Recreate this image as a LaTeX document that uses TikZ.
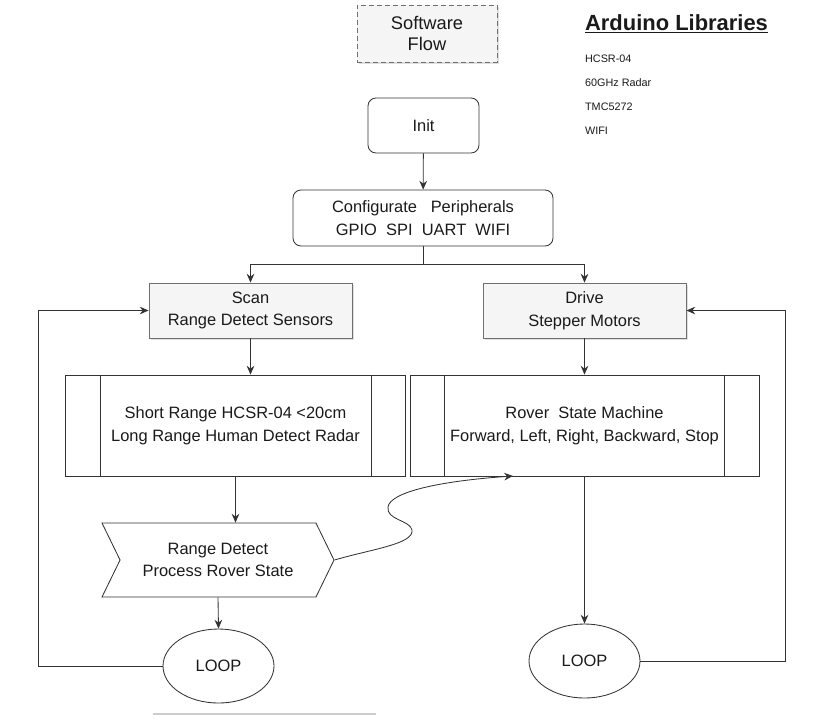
\documentclass[tikz,border=0pt]{standalone}
\usepackage{fontspec}
\setmainfont{Liberation Sans}
\usetikzlibrary{arrows.meta,positioning,shapes.geometric,shapes.symbols,shadows,calc}
\definecolor{flowLine}{HTML}{333333}
\definecolor{flowFill}{HTML}{F5F5F5}
\definecolor{flowDash}{HTML}{707070}
\definecolor{flowText}{HTML}{1A1A1A}

\begin{document}
\begin{tikzpicture}[x=0.25mm,y=-0.25mm,line width=0.6pt,
    every node/.style={font=\fontsize{11.7}{16}\selectfont,text=flowText},
    >={Stealth[length=2.2mm,width=1.9mm]}]
      \useasboundingbox (0,0) rectangle (825,720);
      \tikzstyle{r}=[draw=flowLine,rounded corners=2mm,align=center]
      \tikzstyle{g}=[draw=flowLine!70,fill=flowFill,align=center,
                     minimum width=50.75mm,minimum height=13.75mm,
                     drop shadow={shadow xshift=0.6mm,shadow yshift=-0.6mm,opacity=0.25}]
      \tikzstyle{p}=[draw=flowLine,align=center,minimum height=25.25mm]
      \tikzstyle{lp}=[draw=flowLine,ellipse,minimum width=27.75mm,
                      minimum height=18.5mm,inner sep=0pt]
      \tikzstyle{a}=[->,draw=flowLine]
      \node[draw=flowDash,dash pattern=on 1.2mm off 0.8mm,fill=flowFill,
            minimum width=35mm,minimum height=14.25mm,align=center,
            font=\fontsize{13}{15}\selectfont,
            drop shadow={shadow xshift=0.6mm,shadow yshift=-0.6mm,opacity=0.25}]
            (sw) at (427,33.5) {Software\\Flow};
      \node[anchor=west,font=\fontsize{15.6}{18}\selectfont\bfseries]
            (lib) at (580,24) {\underline{Arduino Libraries}};
      \foreach \t [count=\i] in {HCSR-04,60GHz Radar,TMC5272,WIFI}
        \node[anchor=west,font=\fontsize{7.7}{9}\selectfont] (lib\i) at (580,35+24*\i) {\t};
      \node[r,minimum width=27.75mm,minimum height=13.75mm] (init) at (423.5,125.5) {Init};
      \node[r,minimum width=65mm,minimum height=14mm] (cfg) at (423,218)
            {Configurate\ \ \ Peripherals\\GPIO\ \ SPI\ \ UART\ \ WIFI};
      \node[g] (scan) at (250.5,310.5) {Scan\\Range Detect Sensors};
      \node[g] (drive) at (584.5,310.5) {Drive\\Stepper Motors};
      \node[p,minimum width=85mm] (sr) at (235.5,425.5)
            {Short Range HCSR-04 <20cm\\Long Range Human Detect Radar};
      \node[p,minimum width=87.25mm] (rsm) at (584.5,425.5)
            {Rover\ \ State Machine\\Forward, Left, Right, Backward, Stop};
      \foreach \n in {sr,rsm}{
        \draw[flowLine] ($(\n.north west)+(35,0)$) -- ($(\n.south west)+(35,0)$);
        \draw[flowLine] ($(\n.north east)+(-35,0)$) -- ($(\n.south east)+(-35,0)$);
      }
      \node[draw=flowLine,signal,signal to=east,signal from=west,signal pointer angle=128,
            minimum width=58mm,minimum height=18.5mm,align=center]
            (sig) at (218,560) {Range Detect\\Process Rover State};
      \node[lp] (loopL) at (218.5,666) {LOOP};
      \node[lp] (loopR) at (584.5,661) {LOOP};
      \coordinate (split) at (423,264);
      \coordinate (retL) at (38,666);
      \coordinate (retR) at (785,661);
      \coordinate (rsmIn) at (513,476);
      \draw[a] (init) -- (cfg);
      \draw[a] (cfg) -- (split) -| (scan);
      \draw[a] (split) -| (drive);
      \draw[a] (scan.south) -- (scan.south |- sr.north);
      \draw[a] (drive) -- (rsm);
      \draw[a] (sr.south) -- (sr.south |- sig.north);
      \draw[a] (sig.south) -- (loopL.north);
      \draw[a] (rsm) -- (loopR);
      \draw[a] (loopL) -- (retL) |- (scan);
      \draw[a] (loopR) -- (retR) |- (drive);
      \draw[a] (sig.east) .. controls (372,549) and (414,544) .. (412,530)
            .. controls (410,520) and (386,520) .. (388,507)
            .. controls (390,492) and (440,481) .. (rsmIn);
      \draw[black!20,line width=1.5pt] (153,714) -- (376,714);
    \end{tikzpicture}
\end{document}
